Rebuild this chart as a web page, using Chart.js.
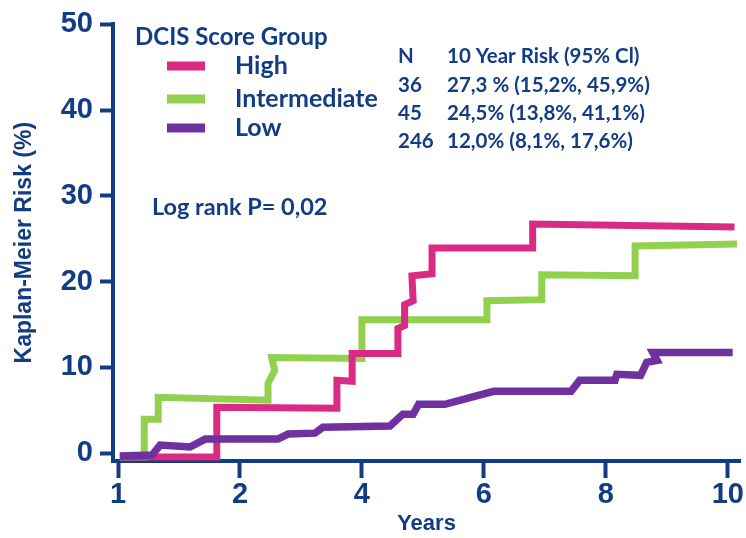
<!DOCTYPE html>
<html><head><meta charset="utf-8">
<script src="https://cdn.jsdelivr.net/npm/chart.js@4.4.1/dist/chart.umd.min.js"></script>
<style>html,body{margin:0;padding:0;background:#fff}#wrap{width:746px;height:538px;position:relative}</style>
</head><body><div id="wrap"><canvas id="c"></canvas></div>
<script>
// ---- data ----
const groupNames = ['High', 'Intermediate', 'Low'];
const groupColors = ['#d92a84', '#92d050', '#7030a0'];

const highYears = [0.03, 1.62, 1.62, 3.59, 3.59, 3.84, 3.84, 4.59, 4.59, 4.70, 4.70, 4.84, 4.82, 5.15, 5.15, 6.80, 6.80, 10.11];
const highRisk  = [-0.46, -0.46, 5.34, 5.23, 8.48, 8.36, 11.61, 11.61, 14.52, 14.87, 17.31, 17.77, 20.67, 20.91, 23.93, 23.93, 26.71, 26.36];

const intYears = [0.03, 0.43, 0.43, 0.66, 0.66, 2.46, 2.46, 2.57, 2.52, 4.00, 4.00, 6.05, 6.05, 6.95, 6.95, 8.48, 8.48, 10.15];
const intRisk  = [-0.46, -0.46, 3.95, 3.95, 6.50, 6.16, 8.13, 9.64, 11.15, 11.03, 15.56, 15.56, 17.77, 17.89, 20.79, 20.67, 24.16, 24.39];

const lowYears = [0.03, 0.56, 0.69, 1.18, 1.43, 2.62, 2.79, 3.23, 3.36, 4.46, 4.67, 4.84, 4.93, 5.36, 6.16, 7.43, 7.57, 8.15, 8.18, 8.57, 8.67, 8.84, 8.77, 10.08];
const lowRisk  = [-0.35, -0.23, 0.93, 0.70, 1.63, 1.63, 2.21, 2.32, 3.02, 3.14, 4.53, 4.53, 5.69, 5.69, 7.20, 7.20, 8.48, 8.48, 9.18, 9.06, 10.57, 10.80, 11.73, 11.73];

const xTickValues = [0, 2, 4, 6, 8, 10];
const xTickLabels = ['1', '2', '4', '6', '8', '10'];
const yTickValues = [0, 10, 20, 30, 40, 50];

const tableHeader = ['N', '10 Year Risk (95% Cl)'];
const tableN = ['36', '45', '246'];
const tableRisk = ['27,3 % (15,2%, 45,9%)', '24,5% (13,8%, 41,1%)', '12,0% (8,1%, 17,6%)'];
const legendTitle = 'DCIS Score Group';
const logRankText = 'Log rank P= 0,02';

// ---- styling ----
const BLUE = '#123c84';
const toPts = (xs, ys) => xs.map((x, i) => ({x: x, y: ys[i]}));
const seriesX = [highYears, intYears, lowYears];
const seriesY = [highRisk, intRisk, lowRisk];
const drawOrder = [1, 2, 0];

const datasets = groupNames.map((name, i) => ({
  label: name,
  data: toPts(seriesX[i], seriesY[i]),
  borderColor: groupColors[i],
  backgroundColor: groupColors[i],
  borderWidth: i === 2 ? 7.5 : 7,
  pointRadius: 0,
  tension: 0,
  fill: false,
  clip: false,
  borderJoinStyle: 'miter',
  borderCapStyle: 'butt',
  order: drawOrder[i]
}));

const annotations = {
  id: 'annotations',
  afterDraw(chart) {
    const ctx = chart.ctx;
    ctx.save();
    ctx.fillStyle = BLUE;
    ctx.textBaseline = 'middle';
    ctx.textAlign = 'left';
    // legend
    ctx.font = 'bold 24px Lato';
    ctx.fillText(legendTitle, 135, 37);
    const rowY = [66, 99, 128];
    chart.data.datasets.forEach((ds, i) => {
      ctx.fillStyle = ds.borderColor;
      ctx.fillRect(167, rowY[i] - 4.5, 38, 9);
      ctx.fillStyle = BLUE;
      ctx.font = 'bold 25px Lato';
      ctx.fillText(ds.label, 235, rowY[i]);
    });
    // table
    ctx.font = 'bold 20.5px Lato';
    const tY = [56, 85, 113, 141];
    ctx.fillText(tableHeader[0], 398, tY[0]);
    ctx.fillText(tableHeader[1], 447, tY[0]);
    tableN.forEach((n, i) => {
      ctx.fillText(n, 398, tY[i + 1]);
      ctx.fillText(tableRisk[i], 447, tY[i + 1]);
    });
    // log rank
    ctx.font = 'bold 23.5px Lato';
    ctx.fillText(logRankText, 152, 207);
    ctx.restore();
  }
};

new Chart(document.getElementById('c'), {
  type: 'line',
  data: { datasets: datasets },
  plugins: [annotations],
  options: {
    responsive: true,
    maintainAspectRatio: false,
    animation: false,
    layout: { padding: { top: 22, right: 6, left: 0, bottom: 0 } },
    plugins: { legend: { display: false }, tooltip: { enabled: false } },
    scales: {
      x: {
        type: 'linear',
        min: -0.082,
        max: 10.2,
        afterBuildTicks: s => { s.ticks = xTickValues.map(v => ({ value: v })); },
        afterFit: s => { s.height = 77; },
        ticks: {
          callback: (v, i) => xTickLabels[i],
          color: BLUE,
          font: { family: '"Liberation Sans", Arial, sans-serif', weight: 'bold', size: 29 },
          padding: 0,
          maxRotation: 0,
          autoSkip: false
        },
        grid: { drawOnChartArea: false, drawTicks: true, tickLength: 17, tickWidth: 4, tickColor: BLUE },
        border: { display: true, width: 4, color: BLUE },
        title: {
          display: true, text: 'Years', color: BLUE,
          font: { family: '"Liberation Sans", Arial, sans-serif', weight: 'bold', size: 22 },
          padding: { top: 0, bottom: 1 }
        }
      },
      y: {
        type: 'linear',
        min: -0.93,
        max: 50,
        afterBuildTicks: s => { s.ticks = yTickValues.map(v => ({ value: v })); },
        afterFit: s => { s.width = 113; },
        ticks: {
          color: BLUE,
          font: { family: '"Liberation Sans", Arial, sans-serif', weight: 'bold', size: 29 },
          padding: 7,
          autoSkip: false
        },
        grid: { drawOnChartArea: false, drawTicks: true, tickLength: 13, tickWidth: 4, tickColor: BLUE },
        border: { display: true, width: 4, color: BLUE },
        title: {
          display: true, text: 'Kaplan-Meier Risk (%)', color: BLUE,
          font: { family: '"Liberation Sans", Arial, sans-serif', weight: 'bold', size: 23 },
          padding: { top: 11, bottom: 0 }
        }
      }
    }
  }
});
</script>
</body></html>
